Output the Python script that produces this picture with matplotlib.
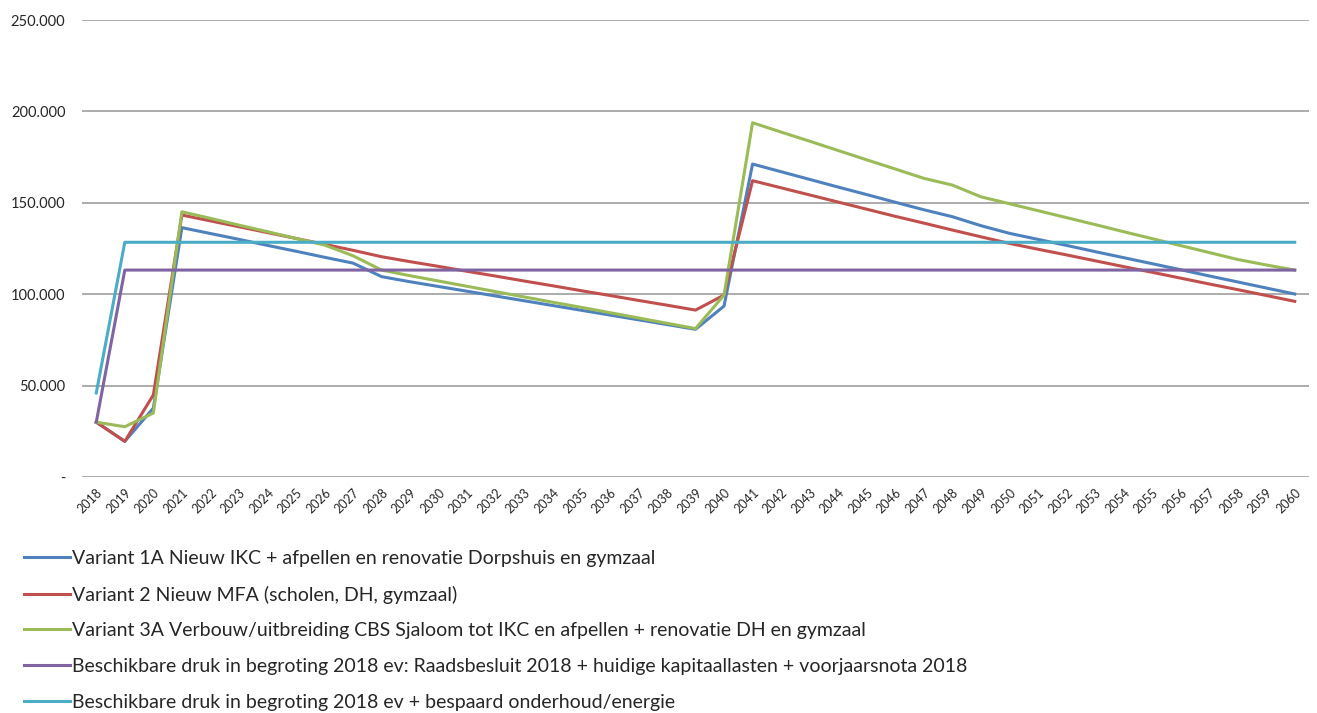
import numpy as np
import matplotlib
matplotlib.use("Agg")
import matplotlib.pyplot as plt
from matplotlib.ticker import FuncFormatter

plt.rcParams['font.family'] = ['Lato', 'DejaVu Sans']

# Years on the category axis
years = list(range(2018, 2061))

# Series values (euro)
variant_1a = [30000, 19500, 37700, 136400, 133200, 130000, 126700, 123500, 120200, 117000,
              109600, 106800, 104200, 101600, 99000, 96400, 93800, 91200, 88600, 86000,
              83400, 80800, 93500, 171200, 167000, 162800, 158600, 154500, 150300, 146200,
              142400, 137500, 133300, 130000, 126700, 123300, 120000, 116700, 113400, 110000,
              106700, 103400, 100100]
variant_2 = [30000, 19500, 44900, 143300, 140100, 136900, 133700, 130500, 127300, 124000,
             120500, 117800, 115200, 112500, 109900, 107200, 104600, 101900, 99300, 96600,
             94000, 91300, 99500, 162100, 158200, 154300, 150400, 146500, 142600, 138900,
             135100, 131400, 127800, 124600, 121500, 118300, 115100, 112000, 108800, 105600,
             102500, 99300, 96100]
variant_3a = [30000, 27500, 35000, 145100, 141500, 137800, 134200, 130500, 126900, 121000,
              113200, 110100, 107200, 104300, 101400, 98500, 95600, 92800, 89900, 87000,
              84100, 81200, 99500, 193800, 188700, 183700, 178600, 173500, 168500, 163400,
              159700, 153300, 149500, 145700, 141900, 138100, 134200, 130400, 126600, 122800,
              119000, 116000, 113200]
beschikbaar = [30000] + [113200] * 42
beschikbaar_plus = [46000] + [128400] * 42

labels = [
    "Variant 1A Nieuw IKC + afpellen en renovatie Dorpshuis en gymzaal",
    "Variant 2 Nieuw MFA (scholen, DH, gymzaal)",
    "Variant 3A Verbouw/uitbreiding CBS Sjaloom tot IKC en afpellen + renovatie DH en gymzaal",
    "Beschikbare druk in begroting 2018 ev: Raadsbesluit 2018 + huidige kapitaallasten + voorjaarsnota 2018",
    "Beschikbare druk in begroting 2018 ev + bespaard onderhoud/energie",
]
colors = ["#4F81BD", "#C0504D", "#9BBB59", "#8064A2", "#4BACC6"]
series = [variant_1a, variant_2, variant_3a, beschikbaar, beschikbaar_plus]

fig = plt.figure(figsize=(13.17, 7.13), dpi=100)
ax = fig.add_axes([82 / 1317, 1 - 477 / 713, (1309 - 82) / 1317, (477 - 20) / 713])

x = np.arange(len(years))
for vals, col, lab in zip(series, colors, labels):
    ax.plot(x, vals, color=col, lw=2.2, label=lab, solid_joinstyle='round')

ax.set_xlim(-0.5, len(years) - 0.5)
ax.set_ylim(0, 250000)
ax.set_yticks(np.arange(0, 250001, 50000))
ax.yaxis.set_major_formatter(FuncFormatter(
    lambda v, p: "-" if v == 0 else f"{int(v):,}".replace(",", ".")))
ax.set_xticks(x)
ax.set_xticklabels([str(y) for y in years], rotation=45, ha='right',
                   rotation_mode='anchor', fontsize=9)
ax.tick_params(axis='both', length=0, colors='#262626')
ax.tick_params(axis='y', labelsize=10.5, pad=12)
ax.tick_params(axis='x', pad=7)
ax.grid(axis='y', color='#A6A6A6', lw=1.3)
ax.set_axisbelow(True)
for s in ax.spines.values():
    s.set_visible(False)

fig.legend(loc='upper left', bbox_to_anchor=(16 / 1317, 1 - 542 / 713),
           frameon=False, fontsize=14, handlelength=2.4, handletextpad=0.1,
           labelspacing=0.96, borderaxespad=0, labelcolor='#262626')

fig.savefig("out.png", dpi=100)
